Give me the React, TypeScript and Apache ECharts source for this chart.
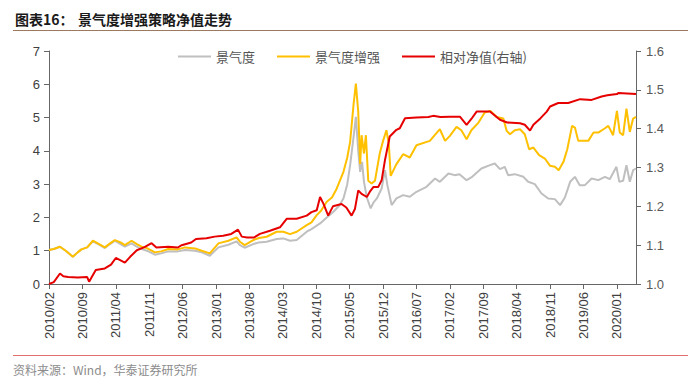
import React, { useEffect, useRef } from "react";
import * as echarts from "echarts";

// ---- Data (x = months since 2010/02) ----
const xTickLabels = [
  "2010/02", "2010/09", "2011/04", "2011/11", "2012/06", "2013/01", "2013/08", "2014/03", "2014/10",
  "2015/05", "2015/12", "2016/07", "2017/02", "2017/09", "2018/04", "2018/11", "2019/06", "2020/01",
];
const monthsPerTick = 7;
const lastMonth = 123;

const leftTicks = { min: 0, max: 7, interval: 1 };
const rightTicks = { min: 1.0, max: 1.6, interval: 0.1 };

const seriesNames = ["景气度", "景气度增强", "相对净值(右轴)"];

// 景气度 (left axis)
const jingqiPts: [number, number][] = [
  [0, 1.02], [1, 1.05], [2.3, 1.12], [3.5, 1.0], [5, 0.82], [6, 0.95], [6.8, 1.04], [8, 1.1],
  [9.2, 1.28], [10.5, 1.18], [11.7, 1.08], [12.8, 1.2], [13.8, 1.3], [15, 1.2], [15.9, 1.12],
  [17.3, 1.22], [18.4, 1.12], [19.4, 1.05], [20.5, 1.0], [22.2, 0.88], [23.5, 0.92], [25, 0.98],
  [27, 0.98], [28.5, 1.02], [30.6, 1.0], [32, 0.95], [33.7, 0.85], [35.5, 1.1], [37.6, 1.18],
  [39.3, 1.28], [40, 1.17], [41, 1.09], [42.8, 1.2], [44, 1.25], [45.6, 1.27], [47.7, 1.35],
  [49.1, 1.37], [50.5, 1.3], [51.9, 1.32], [54, 1.57], [55, 1.65], [56.8, 1.82], [58.2, 2.0],
  [59.6, 2.17], [60.8, 2.35], [61.7, 2.57], [62.5, 3.0], [63.1, 3.57], [63.8, 4.4], [64.3, 5.02],
  [64.8, 4.0], [65.2, 3.37], [65.6, 3.67], [66, 3.07], [66.6, 2.6], [67.4, 2.27], [68, 2.45],
  [68.7, 2.57], [69.7, 2.87], [70.4, 3.42], [70.9, 2.97], [71.8, 2.37], [72.8, 2.57], [74.2, 2.67],
  [75.6, 2.62], [77, 2.77], [79.1, 2.92], [80.9, 3.17], [81.9, 3.07], [83.7, 3.32], [85, 3.27],
  [86, 3.3], [87.5, 3.12], [88.5, 3.2], [90.6, 3.47], [92.4, 3.57], [93.4, 3.62], [94.5, 3.45],
  [95.5, 3.52], [96.2, 3.27], [97.6, 3.3], [99.4, 3.22], [100.4, 3.07], [101.8, 3.0], [103.2, 2.72],
  [104.6, 2.57], [106, 2.55], [107.1, 2.37], [108.1, 2.6], [109.2, 3.07], [110.2, 3.22],
  [111.2, 2.97], [112.3, 2.97], [113.7, 3.17], [115.1, 3.12], [116.5, 3.22], [117.5, 3.15],
  [118.9, 3.52], [119.5, 3.07], [120.3, 3.1], [121, 3.57], [121.7, 3.07], [122.4, 3.42], [123, 3.47],
];

// 景气度增强 (left axis)
const enhancedPts: [number, number][] = [
  [0, 1.02], [1, 1.05], [2.3, 1.12], [3.5, 1.0], [5, 0.82], [6, 0.95], [6.8, 1.04], [8, 1.1],
  [9.2, 1.3], [10.5, 1.2], [11.7, 1.1], [12.8, 1.22], [13.8, 1.32], [15, 1.25], [15.9, 1.17],
  [17.3, 1.3], [18.4, 1.2], [19.4, 1.12], [20.5, 1.08], [22.2, 0.95], [23.5, 0.98], [25, 1.05],
  [27, 1.04], [28.5, 1.1], [30.6, 1.07], [32, 1.0], [33.7, 0.92], [35.5, 1.22], [37.6, 1.3],
  [39.3, 1.4], [40, 1.27], [41, 1.17], [42.8, 1.32], [44, 1.38], [45.6, 1.42], [47.7, 1.57],
  [49.1, 1.57], [50.5, 1.5], [51.9, 1.57], [54, 1.77], [55, 1.85], [56.1, 2.07], [57, 2.2],
  [58.2, 2.47], [59.3, 2.6], [60.3, 2.87], [61.7, 3.37], [62.5, 3.8], [63.1, 4.27], [63.8, 5.37],
  [64.3, 6.02], [64.8, 5.17], [65.2, 3.6], [65.5, 4.47], [66, 3.92], [66.4, 4.47], [66.9, 3.1],
  [67.6, 3.02], [68.3, 3.1], [69.3, 3.92], [70.0, 4.3], [70.7, 4.62], [71.2, 4.22], [71.6, 3.25],
  [72.8, 3.6], [74.2, 3.9], [75.6, 3.8], [77, 4.17], [79.8, 4.3], [81.9, 4.65], [83, 4.3],
  [84, 4.45], [85.4, 4.72], [86.4, 4.62], [87.5, 4.35], [88.5, 4.62], [90, 4.85], [91.3, 5.15],
  [92.5, 5.2], [93.8, 5.02], [95.2, 4.97], [95.9, 4.6], [96.6, 4.5], [97.6, 4.62], [98.7, 4.65],
  [99.7, 4.5], [100.6, 4.05], [101.5, 4.1], [102.7, 3.87], [103.9, 3.77], [105, 3.55], [106, 3.52],
  [106.8, 3.42], [107.8, 3.67], [108.6, 4.05], [109.6, 4.75], [110.2, 4.7], [110.9, 4.3],
  [112.2, 4.3], [113, 4.3], [114.1, 4.55], [115.1, 4.55], [116.5, 4.68], [117.2, 4.75],
  [118.2, 4.47], [119, 5.2], [119.6, 4.55], [120.3, 4.47], [121, 5.27], [121.7, 4.57],
  [122.4, 4.97], [123, 5.02],
];

// 相对净值 (right axis)
const relativePts: [number, number][] = [
  [0, 1.0], [1, 1.005], [2.3, 1.027], [3, 1.02], [4, 1.018], [6, 1.017], [8, 1.018], [8.4, 1.006],
  [9.8, 1.036], [11.7, 1.04], [13, 1.05], [14, 1.067], [15.9, 1.055], [17, 1.07], [18.4, 1.087],
  [20, 1.095], [21.5, 1.105], [22.5, 1.094], [25, 1.096], [27, 1.094], [27.8, 1.1], [29.8, 1.107],
  [30.8, 1.116], [33, 1.118], [34.7, 1.122], [36.5, 1.124], [38.2, 1.129], [39.6, 1.14],
  [40.4, 1.122], [41.5, 1.12], [43, 1.12], [44.2, 1.129], [46.3, 1.137], [48.4, 1.146],
  [49.8, 1.168], [51.9, 1.168], [54, 1.176], [55, 1.185], [56.1, 1.19], [56.8, 1.224],
  [57.5, 1.207], [58.5, 1.176], [59.5, 1.2], [61.3, 1.206], [62.3, 1.197], [63.4, 1.176],
  [64.1, 1.193], [64.8, 1.241], [65.5, 1.232], [66.6, 1.224], [67.2, 1.237], [68, 1.25], [69, 1.25],
  [69.7, 1.267], [70.4, 1.319], [71.4, 1.38], [72.8, 1.397], [73.5, 1.401], [74.6, 1.427],
  [77, 1.429], [79.5, 1.43], [80.5, 1.433], [82, 1.43], [84, 1.431], [86.1, 1.431], [87.5, 1.41],
  [88.5, 1.425], [89.6, 1.444], [92.4, 1.444], [94.5, 1.423], [96, 1.416], [98.7, 1.414],
  [99.7, 1.41], [100.8, 1.395], [101.5, 1.41], [103, 1.427], [104.3, 1.444], [105, 1.457],
  [106.7, 1.466], [108.8, 1.466], [111.3, 1.476], [113.7, 1.474], [115.8, 1.483], [117, 1.486],
  [119, 1.489], [119.3, 1.492], [123, 1.489],
];

const colors = ["#BFBFBF", "#FFC000", "#E60000"];

const tickValues = xTickLabels.map((_, i) => i * monthsPerTick);
const labelFont = "'Liberation Sans', Arial, sans-serif";
const cjkFont = "'Noto Sans CJK SC', sans-serif";

export default function App() {
  const ref = useRef<HTMLDivElement>(null);
  useEffect(() => {
    if (!ref.current) return;
    const chart = echarts.init(ref.current, undefined, { renderer: "svg" });
    chart.setOption({
      animation: false,
      backgroundColor: "#ffffff",
      grid: { left: 49, right: 64, top: 51, bottom: 102 },
      legend: {
        left: 173,
        top: 45,
        icon: "rect",
        itemWidth: 33,
        itemHeight: 2,
        itemGap: 22,
        data: seriesNames,
        textStyle: { fontFamily: cjkFont, fontSize: 13, color: "#555" },
      },
      xAxis: {
        type: "value",
        min: 0,
        max: lastMonth,
        interval: monthsPerTick,
        splitLine: { show: false },
        axisLine: { onZero: false, lineStyle: { color: "#666", width: 1 } },
        axisTick: { length: 5, customValues: tickValues, lineStyle: { color: "#666" } },
        axisLabel: {
          customValues: tickValues,
          rotate: 90,
          margin: 8,
          fontSize: 13,
          fontFamily: labelFont,
          color: "#404040",
          formatter: (v: number) => xTickLabels[Math.round(v / monthsPerTick)] ?? "",
        },
      },
      yAxis: [
        {
          type: "value",
          ...leftTicks,
          splitLine: { show: false },
          axisLine: { show: true, lineStyle: { color: "#666", width: 1 } },
          axisTick: { show: true, length: 5, lineStyle: { color: "#666" } },
          axisLabel: { margin: 9, fontSize: 13, fontFamily: labelFont, color: "#404040" },
        },
        {
          type: "value",
          position: "right",
          ...rightTicks,
          splitLine: { show: false },
          axisLine: { show: true, lineStyle: { color: "#666", width: 1 } },
          axisTick: { show: true, length: 5, lineStyle: { color: "#666" } },
          axisLabel: {
            margin: 10,
            fontSize: 13,
            fontFamily: labelFont,
            color: "#595959",
            formatter: (v: number) => v.toFixed(1),
          },
        },
      ],
      series: [
        {
          name: seriesNames[0],
          type: "line",
          yAxisIndex: 0,
          data: jingqiPts,
          showSymbol: false,
          symbol: "none",
          lineStyle: { width: 2, color: colors[0] },
          itemStyle: { color: colors[0] },
        },
        {
          name: seriesNames[1],
          type: "line",
          yAxisIndex: 0,
          data: enhancedPts,
          showSymbol: false,
          symbol: "none",
          lineStyle: { width: 2, color: colors[1] },
          itemStyle: { color: colors[1] },
        },
        {
          name: seriesNames[2],
          type: "line",
          yAxisIndex: 1,
          data: relativePts,
          showSymbol: false,
          symbol: "none",
          lineStyle: { width: 2, color: colors[2] },
          itemStyle: { color: colors[2] },
        },
      ],
      graphic: [
        {
          type: "text",
          left: 15,
          top: 12,
          style: { text: "图表16：", font: `bold 14px ${cjkFont}`, fill: "#1a1a1a" },
        },
        {
          type: "text",
          left: 78,
          top: 12,
          style: { text: "景气度增强策略净值走势", font: `bold 14px ${cjkFont}`, fill: "#1a1a1a" },
        },
        {
          type: "line",
          shape: { x1: 13, y1: 30.5, x2: 688, y2: 30.5 },
          style: { stroke: "#9c7a62", lineWidth: 1 },
        },
        {
          type: "line",
          shape: { x1: 13, y1: 355.5, x2: 688, y2: 355.5 },
          style: { stroke: "#e07070", lineWidth: 1 },
        },
        {
          type: "text",
          left: 13,
          top: 363,
          style: { text: "资料来源：Wind，华泰证券研究所", font: `12px ${cjkFont}`, fill: "#8c8c8c" },
        },
      ],
    });
    return () => chart.dispose();
  }, []);
  return (
    <div
      ref={ref}
      style={{ position: "fixed", left: 0, top: 0, width: 700, height: 386, background: "#fff" }}
    />
  );
}
